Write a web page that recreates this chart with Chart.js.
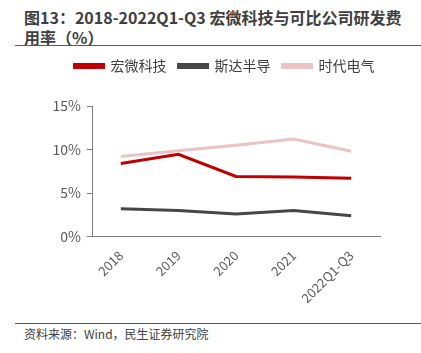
<!DOCTYPE html>
<html>
<head>
<meta charset="utf-8">
<script src="https://cdn.jsdelivr.net/npm/chart.js@4/dist/chart.umd.min.js"></script>
<style>
  body { margin: 0; background: #fff; font-family: "Noto Sans CJK SC", sans-serif; }
  #wrap { position: relative; width: 421px; height: 353px; overflow: hidden; }
  #title { position: absolute; left: 24px; top: 7px; width: 397px; font-size: 16px; font-weight: bold; color: #404040; line-height: 20px; white-space: nowrap; }
  .rule { position: absolute; left: 15px; width: 406px; height: 1px; background: #595959; }
  #source { position: absolute; left: 24px; top: 325px; font-size: 12px; color: #404040; }
  #box { position: absolute; left: 0; top: 47px; width: 449px; height: 262px; }
</style>
</head>
<body>
<div id="wrap">
  <div id="title">图13：2018-2022Q1-Q3 宏微科技与可比公司研发费<br>用率（%）</div>
  <div class="rule" style="top:45px"></div>
  <div id="box"><canvas id="myChart"></canvas></div>
  <div class="rule" style="top:323px"></div>
  <div id="source">资料来源：Wind，民生证券研究院</div>
</div>
<script>
let years = ["2018", "2019", "2020", "2021", "2022Q1-Q3"];
let hongwei = [8.4, 9.45, 6.9, 6.85, 6.7];
let sida = [3.2, 3.0, 2.6, 3.0, 2.4];
let shidai = [9.2, 9.85, 10.5, 11.2, 9.8];

// push the plot down below the legend
let legendGap = {
  id: 'legendGap',
  beforeInit(chart) {
    let fit = chart.legend.fit;
    chart.legend.fit = function () {
      fit.bind(chart.legend)();
      this.height += 23;
    };
  }
};

let ctx = document.getElementById('myChart').getContext('2d');
let chart = new Chart(ctx, {
  type: 'line',
  data: {
    labels: years,
    datasets: [
      { label: '宏微科技', data: hongwei, borderColor: '#C00000', backgroundColor: '#C00000', borderWidth: 3, pointRadius: 0, tension: 0 },
      { label: '斯达半导', data: sida, borderColor: '#474747', backgroundColor: '#474747', borderWidth: 3, pointRadius: 0, tension: 0 },
      { label: '时代电气', data: shidai, borderColor: '#EBC3C3', backgroundColor: '#EBC3C3', borderWidth: 3, pointRadius: 0, tension: 0 }
    ]
  },
  plugins: [legendGap],
  options: {
    responsive: true,
    maintainAspectRatio: false,
    animation: false,
    layout: { padding: { left: 0, right: 0, top: 0, bottom: 0 } },
    plugins: {
      legend: {
        display: true,
        position: 'top',
        labels: {
          boxWidth: 29,
          boxHeight: 3,
          padding: 12,
          color: '#404040',
          font: { family: "Noto Sans CJK SC", size: 14 }
        }
      },
      tooltip: { enabled: false }
    },
    scales: {
      x: {
        offset: true,
        grid: { display: false },
        border: { display: true, color: '#7f7f7f' },
        ticks: {
          color: '#595959',
          font: { family: "Noto Sans CJK SC", size: 13 },
          maxRotation: 45,
          minRotation: 45
        }
      },
      y: {
        min: 0,
        max: 15,
        afterFit: function (scale) { scale.width = 92; },
        grid: { display: true, drawOnChartArea: false, drawTicks: true, tickLength: 5, color: '#7f7f7f' },
        border: { display: true, color: '#7f7f7f' },
        ticks: {
          stepSize: 5,
          color: '#595959',
          padding: 6,
          font: { family: "Noto Sans CJK SC", size: 14 },
          callback: function (v) { return v + '%'; }
        }
      },
      spacer: {
        position: 'right',
        afterFit: function (scale) { scale.width = 69; },
        grid: { display: false },
        border: { display: false },
        ticks: { display: false }
      }
    }
  }
});
</script>
</body>
</html>
